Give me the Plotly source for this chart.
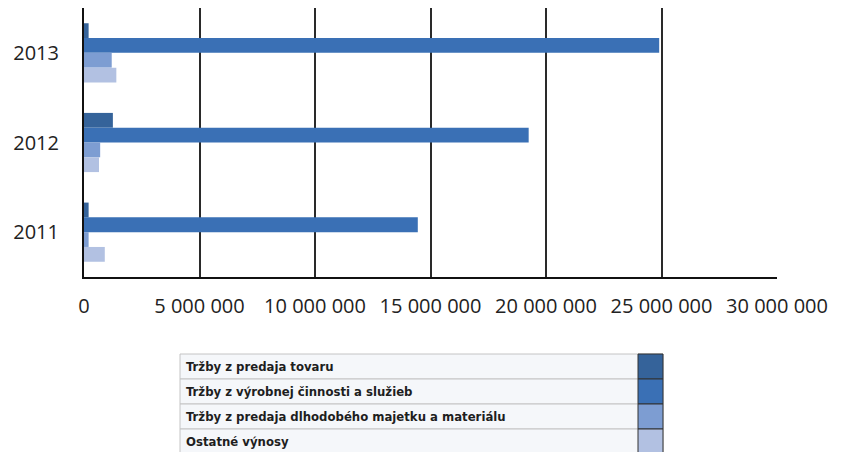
import plotly.graph_objects as go

years = ["2013", "2012", "2011"]

series_names = [
    "Tržby z predaja tovaru",
    "Tržby z výrobnej činnosti a služieb",
    "Tržby z predaja dlhodobého majetku a materiálu",
    "Ostatné výnosy",
]

predaj_tovaru = [200000, 1250000, 200000]
vyrobna_cinnost = [24900000, 19250000, 14450000]
dlhodoby_majetok = [1200000, 700000, 200000]
ostatne_vynosy = [1400000, 650000, 900000]

series_values = [predaj_tovaru, vyrobna_cinnost, dlhodoby_majetok, ostatne_vynosy]
series_colors = ["#35639a", "#3a70b5", "#7d9dd2", "#b2c1e2"]

tick_values = [0, 5000000, 10000000, 15000000, 20000000, 25000000, 30000000]
tick_labels = ["0", "5 000 000", "10 000 000", "15 000 000",
               "20 000 000", "25 000 000", "30 000 000"]

W, H = 849, 452
M_L, M_R, M_T, M_B = 84, 72, 8, 0
PLOT_H = H - M_T - M_B
PLOT_W = W - M_L - M_R


def px_x(x):
    return (x - M_L) / PLOT_W


def px_y(y):
    return (H - M_B - y) / PLOT_H


fig = go.Figure()

for name, values, color in zip(series_names, series_values, series_colors):
    fig.add_trace(go.Bar(
        y=years,
        x=values,
        name=name,
        orientation="h",
        marker=dict(color=color, line=dict(width=0)),
        showlegend=False,
    ))

fig.update_layout(
    width=W,
    height=H,
    margin=dict(l=M_L, r=M_R, t=M_T, b=M_B, autoexpand=False),
    paper_bgcolor="white",
    plot_bgcolor="white",
    barmode="group",
    bargap=0.34,
    bargroupgap=0,
    font=dict(family="Open Sans", color="#222222"),
)

fig.update_xaxes(
    range=[0, 30000000],
    tickvals=tick_values,
    ticktext=tick_labels,
    showgrid=True,
    gridcolor="#2a2a2a",
    gridwidth=1.5,
    zeroline=False,
    showline=True,
    linecolor="#111111",
    linewidth=2,
    ticks="",
    automargin=False,
    ticklabelstandoff=10,
    tickfont=dict(size=20, family="Open Sans", color="#222222"),
)

fig.update_yaxes(
    domain=[px_y(277), 1],
    autorange="reversed",
    showgrid=False,
    showline=True,
    linecolor="#111111",
    linewidth=2,
    ticks="",
    automargin=False,
    ticklabelstandoff=19,
    tickfont=dict(size=20, family="Open Sans", color="#222222"),
)

# legend drawn as a small table below the chart
table_left, table_right = 180, 663
swatch_left = 638
row_top = 354
row_h = 25

shapes = []
annotations = []
for i, (name, color) in enumerate(zip(series_names, series_colors)):
    top = row_top + i * row_h
    bottom = top + row_h
    shapes.append(dict(
        type="rect", xref="paper", yref="paper",
        x0=px_x(table_left), x1=px_x(table_right),
        y0=px_y(bottom), y1=px_y(top),
        fillcolor="#f5f7fa", line=dict(color="#c4c4c4", width=1),
        layer="below",
    ))
    shapes.append(dict(
        type="rect", xref="paper", yref="paper",
        x0=px_x(swatch_left), x1=px_x(table_right),
        y0=px_y(bottom), y1=px_y(top),
        fillcolor=color, line=dict(color="#333333", width=1),
    ))
    annotations.append(dict(
        xref="paper", yref="paper",
        x=px_x(table_left + 4), y=px_y(top + row_h / 2),
        text="<b>" + name + "</b>", showarrow=False,
        xanchor="left", yanchor="middle",
        font=dict(family="DejaVu Sans Condensed, DejaVu Sans", size=13,
                  color="#1e1e1e"),
    ))

fig.update_layout(shapes=shapes, annotations=annotations)

# drop the browser's default page margin so the figure sits at the corner
fig.write_html(
    "out.html",
    config={"displayModeBar": False},
    post_script="document.body.style.margin='0';",
)
